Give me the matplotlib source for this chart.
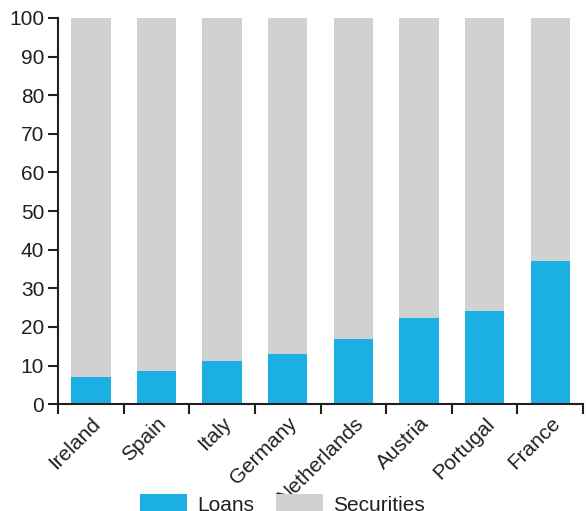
import matplotlib
matplotlib.use("Agg")
import matplotlib.pyplot as plt
import numpy as np

plt.rcParams['font.family'] = ['Liberation Sans', 'DejaVu Sans']

countries = ["Ireland", "Spain", "Italy", "Germany", "Netherlands", "Austria", "Portugal", "France"]
loans = [7.0, 8.6, 11.2, 13.0, 16.9, 22.4, 24.0, 37.0]
securities = [100 - v for v in loans]

blue = "#1BAFE3"
gray = "#D0D1D1"
txt = "#231F20"
fs = 15

fig = plt.figure(figsize=(5.86, 5.11), dpi=100)
ax = fig.add_axes([0.099, 0.209, 0.896, 0.756])

x = np.arange(len(countries))
ax.bar(x, loans, width=0.6, color=blue, label="Loans", zorder=2)
ax.bar(x, securities, width=0.6, bottom=loans, color=gray, label="Securities", zorder=2)

ax.set_xlim(-0.5, len(countries) - 0.5)
ax.set_ylim(0, 100)
ax.set_yticks(np.arange(0, 101, 10))
ax.tick_params(axis='y', direction='out', length=7, width=1.5, colors=txt, labelsize=fs, pad=3)

ax.set_xticks(np.arange(-0.5, len(countries), 1.0))
ax.set_xticklabels([])
ax.tick_params(axis='x', which='major', direction='out', length=7.5, width=1.5, colors=txt)
ax.set_xticks(x, minor=True)
ax.set_xticklabels(countries, minor=True, rotation=45, ha='right', rotation_mode='anchor',
                   fontsize=fs, color=txt)
ax.tick_params(axis='x', which='minor', length=0, pad=7)

for s in ['top', 'right']:
    ax.spines[s].set_visible(False)
for s in ['left', 'bottom']:
    ax.spines[s].set_linewidth(1.5)
    ax.spines[s].set_color(txt)

h, l = ax.get_legend_handles_labels()
fig.legend(h, l, loc='lower center', bbox_to_anchor=(0.482, -0.024), ncol=2, frameon=False,
           fontsize=fs, handlelength=2.26, handleheight=1.0, columnspacing=1.06, handletextpad=0.48,
           labelcolor=txt, borderaxespad=0)

fig.savefig("out.png", dpi=100)
